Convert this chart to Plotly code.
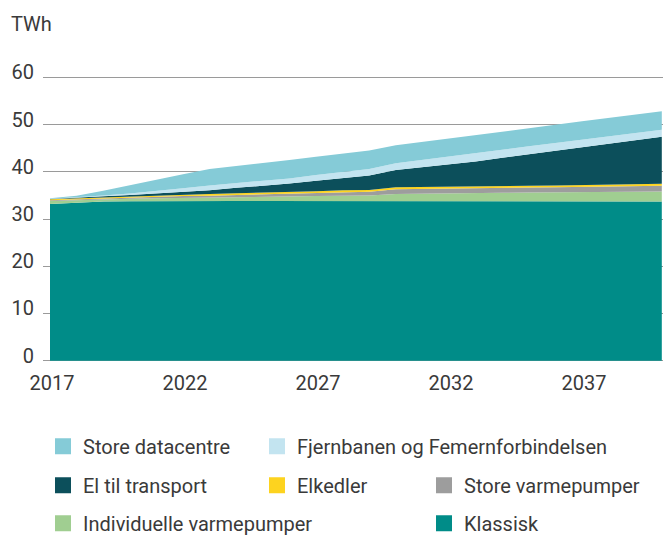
import plotly.graph_objects as go

years = list(range(2017, 2041))

klassisk = [33.2, 33.5, 33.7, 33.75, 33.8, 33.8, 33.8, 33.8, 33.8, 33.8, 33.8, 33.8,
            33.8, 33.8, 33.8, 33.8, 33.8, 33.8, 33.75, 33.75, 33.75, 33.75, 33.7, 33.7]
individuelle = [0.6, 0.5, 0.5, 0.55, 0.6, 0.7, 0.8, 0.9, 0.95, 1.0, 1.05, 1.1,
                1.2, 1.5, 1.6, 1.65, 1.7, 1.75, 1.85, 1.9, 1.95, 2.0, 2.1, 2.15]
store_varmepumper = [0.15, 0.15, 0.15, 0.25, 0.3, 0.35, 0.35, 0.4, 0.45, 0.55, 0.65, 0.8,
                     0.75, 1.0, 1.0, 1.05, 1.05, 1.05, 1.05, 1.05, 1.05, 1.1, 1.15, 1.2]
elkedler = [0.25, 0.25, 0.3, 0.3, 0.3, 0.3, 0.35, 0.35, 0.35, 0.35, 0.4, 0.4,
            0.4, 0.4, 0.4, 0.4, 0.4, 0.4, 0.4, 0.4, 0.4, 0.4, 0.4, 0.4]
el_transport = [0.05, 0.05, 0.15, 0.25, 0.4, 0.6, 0.8, 1.15, 1.45, 1.8, 2.2, 2.6,
                3.05, 3.7, 4.15, 4.6, 5.25, 5.95, 6.65, 7.35, 8.05, 8.7, 9.35, 9.95]
fjernbanen = [0.05, 0.15, 0.2, 0.3, 0.5, 0.75, 1.0, 0.95, 1.05, 1.1, 1.2, 1.3,
              1.4, 1.4, 1.6, 1.8, 1.8, 1.75, 1.7, 1.65, 1.6, 1.55, 1.5, 1.5]
datacentre = [0.1, 0.3, 1.0, 1.8, 2.4, 3.0, 3.5, 3.65, 3.8, 3.9, 3.9, 3.85,
              3.9, 3.8, 3.75, 3.7, 3.7, 3.75, 3.8, 3.85, 3.9, 3.9, 3.9, 3.9]

x_ticks = [2017, 2022, 2027, 2032, 2037]
y_ticks = [0, 10, 20, 30, 40, 50, 60]

series = [
    ("Klassisk", klassisk, "#008C88"),
    ("Individuelle varmepumper", individuelle, "#A0CE91"),
    ("Store varmepumper", store_varmepumper, "#9D9D9D"),
    ("Elkedler", elkedler, "#FDD31F"),
    ("El til transport", el_transport, "#0C4F5B"),
    ("Fjernbanen og Femernforbindelsen", fjernbanen, "#C3E4F0"),
    ("Store datacentre", datacentre, "#85CBD7"),
]

FONT = "Roboto"
TXT = "#3a3a3a"
W, H = 663, 536
PXU = (360.6 - 77.7) / 60.0       # pixels per TWh
YLO, YHI = -0.5, 60.5
T = 77.7 - (YHI - 60) * PXU
B = H - (360.6 + (0 - YLO) * PXU)
L, R = 43, 0
PW, PH = W - L - R, H - T - B
PXY = 26.6                          # pixels per year

def px_x(px):
    return (px - L) / PW

def px_y(py):
    return (H - B - py) / PH

# legend placement (text left x, row center y)
legend_pos = {
    "Store datacentre": (83, 446),
    "Fjernbanen og Femernforbindelsen": (297, 446),
    "El til transport": (83, 485),
    "Elkedler": (297, 485),
    "Store varmepumper": (464, 485),
    "Individuelle varmepumper": (83, 523),
    "Klassisk": (464, 523),
}

fig = go.Figure()
for name, vals, col in series:
    fig.add_trace(go.Scatter(
        x=years, y=vals, name=name, stackgroup="one", mode="lines",
        line=dict(width=0, color=col), fillcolor=col, showlegend=False,
        hoverinfo="x+y+name"))

layout_legends = {}
for i, (name, vals, col) in enumerate(series):
    lg = "legend" if i == 0 else f"legend{i+1}"
    fig.add_trace(go.Scatter(
        x=[None], y=[None], name=name, mode="markers",
        marker=dict(symbol="square", size=16, color=col),
        showlegend=True, legend=lg))
    tx, ty = legend_pos[name]
    layout_legends[lg] = dict(
        x=px_x(tx - 40), y=px_y(ty), xanchor="left", yanchor="middle",
        xref="paper", yref="paper", orientation="h",
        bgcolor="rgba(0,0,0,0)", borderwidth=0,
        font=dict(family=FONT, size=20, color=TXT))

fig.update_layout(
    width=W, height=H,
    margin=dict(l=L, r=R, t=T, b=B, pad=0, autoexpand=False),
    paper_bgcolor="white", plot_bgcolor="white",
    font=dict(family=FONT, size=20, color=TXT),
    xaxis=dict(
        range=[2017 - 7 / PXY, 2017 + (PW - 7) / PXY],
        tickmode="array", tickvals=x_ticks, ticktext=[str(v) for v in x_ticks],
        showgrid=False, zeroline=False, showline=False, ticks="",
        ticklabelstandoff=6, ticklabelshift=2,
        tickfont=dict(family=FONT, size=20, color=TXT)),
    yaxis=dict(
        range=[YLO, YHI], tickmode="array", tickvals=y_ticks,
        showgrid=True, gridcolor="#9a9a9a", gridwidth=1.3,
        zeroline=False, showline=False, ticks="",
        ticklabelstandoff=8, ticklabelshift=-5,
        tickfont=dict(family=FONT, size=20, color=TXT)),
    annotations=[dict(
        text="TWh", x=px_x(9), y=px_y(24), xref="paper", yref="paper",
        xanchor="left", yanchor="middle", showarrow=False,
        font=dict(family=FONT, size=20, color=TXT))],
    **layout_legends,
)

fig.write_html("out.html", config={"displayModeBar": False},
               post_script="document.body.style.margin='0';")
